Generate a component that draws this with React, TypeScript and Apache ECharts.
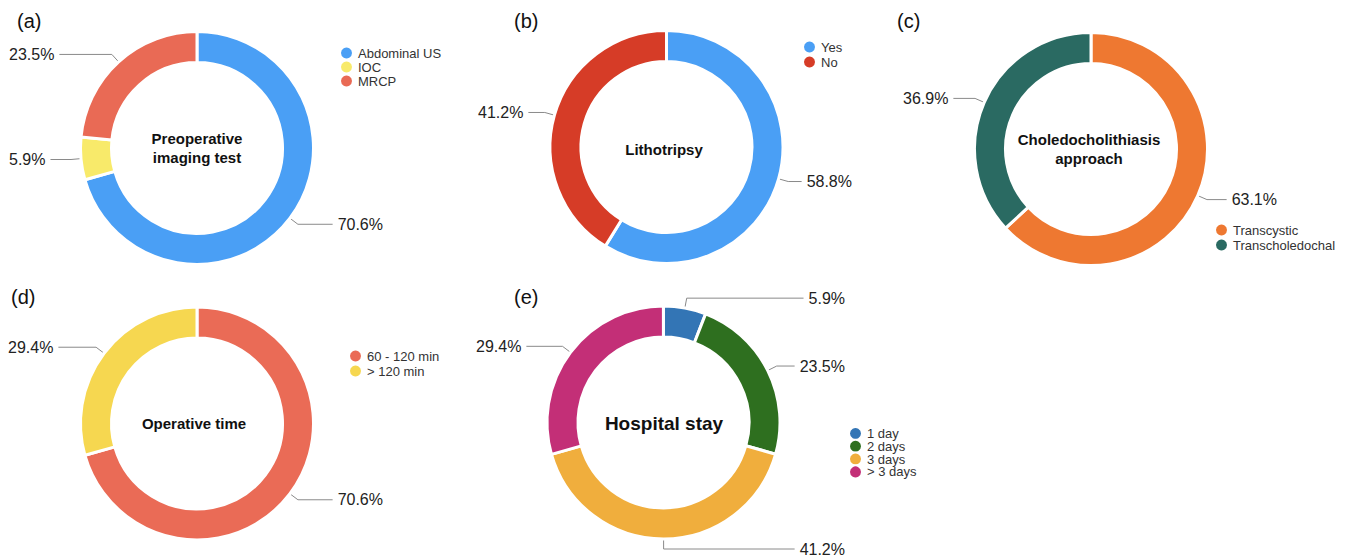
import React, { useEffect, useRef } from "react";
import * as echarts from "echarts";

// ---- data ----
const aNames = ["Abdominal US", "IOC", "MRCP"];
const aValues = [70.6, 5.9, 23.5];
const aColors = ["#4A9FF5", "#F8EA6A", "#E96A55"];

const bNames = ["Yes", "No"];
const bValues = [58.8, 41.2];
const bColors = ["#4A9FF5", "#D63C27"];

const cNames = ["Transcystic", "Transcholedochal"];
const cValues = [63.1, 36.9];
const cColors = ["#EE7831", "#2A6A62"];

const dNames = ["60 - 120 min", "> 120 min"];
const dValues = [70.6, 29.4];
const dColors = ["#EA6B56", "#F6D750"];

const eNames = ["1 day", "2 days", "3 days", "> 3 days"];
const eValues = [5.9, 23.5, 41.2, 29.4];
const eColors = ["#3375B5", "#2E6F1F", "#F0AE3D", "#C32F77"];

const FONT = '"Liberation Sans", Arial, Helvetica, sans-serif';

function makePie(names: string[], values: number[], colors: string[], box: any) {
  return {
    type: "pie",
    left: box.left,
    top: box.top,
    width: box.width,
    height: box.height,
    center: [box.cx, box.cy],
    radius: [85.5, 116.5],
    startAngle: box.start ?? 90,
    clockwise: true,
    avoidLabelOverlap: true,
    itemStyle: { borderColor: "#ffffff", borderWidth: 3 },
    label: {
      show: true,
      position: "outside",
      formatter: (p: any) => Number(p.value).toFixed(1) + "%",
      alignTo: "edge",
      edgeDistance: 0,
      distanceToLabelLine: 5,
      fontSize: 16,
      color: "#222",
      fontFamily: FONT,
    },
    labelLine: {
      show: true,
      length: 10,
      length2: 4,
      lineStyle: { color: "#8a8a8a", width: 1 },
    },
    emphasis: { disabled: true },
    data: names.map((n, i) => ({ name: n, value: values[i], itemStyle: { color: colors[i] } })),
  };
}

function makeLegend(names: string[], left: number, top: number, gap: number) {
  return {
    data: names,
    orient: "vertical",
    left,
    top,
    padding: 0,
    icon: "circle",
    itemWidth: 13,
    itemHeight: 13,
    itemGap: gap,
    itemTextGap: 7,
    selectedMode: false,
    textStyle: { fontSize: 13, color: "#333", fontFamily: FONT },
  };
}

function centerText(x: number, y: number, text: string, size: number, lh: number) {
  return {
    type: "text",
    x,
    y,
    silent: true,
    style: {
      text,
      textAlign: "center",
      textVerticalAlign: "middle",
      font: `bold ${size}px ${FONT}`,
      lineHeight: lh,
      fill: "#111",
    },
  };
}

function panelLetter(x: number, y: number, text: string) {
  return {
    type: "text",
    x,
    y,
    silent: true,
    style: {
      text,
      textAlign: "left",
      textVerticalAlign: "middle",
      font: `20px ${FONT}`,
      fill: "#111",
    },
  };
}

export default function App() {
  const ref = useRef<HTMLDivElement>(null);
  useEffect(() => {
    if (!ref.current) return;
    const chart = echarts.init(ref.current, null, { renderer: "svg" });
    const option: any = {
      animation: false,
      backgroundColor: "#ffffff",
      textStyle: { fontFamily: FONT },
      legend: [
        makeLegend(aNames, 339, 45.5, -1),
        makeLegend(bNames, 802, 39.5, 0),
        makeLegend(cNames, 1214, 222.5, 0),
        makeLegend(dNames, 348, 348.5, 0),
        makeLegend(eNames, 848, 426, -2.2),
      ],
      series: [
        makePie(aNames, aValues, aColors, { left: 9, top: 0, width: 374, height: 280, cx: 188, cy: 148 }),
        makePie(bNames, bValues, bColors, { left: 478, top: 0, width: 374, height: 280, cx: 188.5, cy: 147 }),
        makePie(cNames, cValues, cColors, { left: 903, top: 0, width: 374, height: 280, cx: 188, cy: 149 }),
        makePie(dNames, dValues, dColors, { left: 8, top: 280, width: 375, height: 278, cx: 189, cy: 143.5 }),
        makePie(eNames, eValues, eColors, { left: 476, top: 280, width: 369, height: 278, cx: 187.5, cy: 142.5, start: 90.05 }),
      ],
      graphic: [
        panelLetter(17, 21, "(a)"),
        panelLetter(514, 21, "(b)"),
        panelLetter(897, 21, "(c)"),
        panelLetter(11, 297, "(d)"),
        panelLetter(514, 297, "(e)"),
        centerText(197, 148, "Preoperative\nimaging test", 15, 19),
        centerText(664, 149, "Lithotripsy", 15, 19),
        centerText(1089, 149, "Choledocholithiasis\napproach", 15, 19),
        centerText(194, 423, "Operative time", 15, 19),
        centerText(664, 423, "Hospital stay", 19, 23),
      ],
    };
    chart.setOption(option);
    return () => chart.dispose();
  }, []);
  return (
    <div
      ref={ref}
      style={{ position: "absolute", left: 0, top: 0, width: 1349, height: 558 }}
    />
  );
}
